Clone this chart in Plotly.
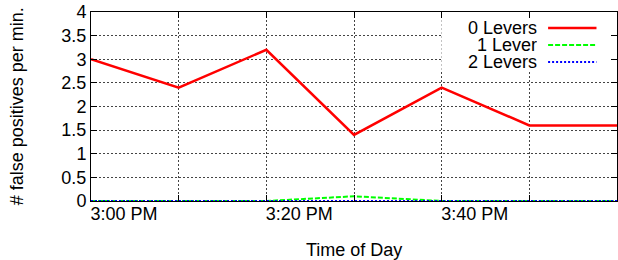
import plotly.graph_objects as go

# Data: minutes after 3:00 PM
minutes = [0, 10, 20, 30, 40, 50, 60]
levers0 = [3.0, 2.4, 3.2, 1.4, 2.4, 1.6, 1.6]
levers1 = [0.0, 0.0, 0.0, 0.1, 0.0, 0.0, 0.0]
levers2 = [0.0, 0.0, 0.0, 0.0, 0.0, 0.0, 0.0]
series_names = ["0 Levers", "1 Lever", "2 Levers"]

x_tickvals = [0, 10, 20, 30, 40, 50, 60]
x_ticktext = ["3:00 PM", "", "3:20 PM", "", "3:40 PM", "", ""]
y_tickvals = [0, 0.5, 1, 1.5, 2, 2.5, 3, 3.5, 4]
y_ticktext = ["0", "0.5", "1", "1.5", "2", "2.5", "3", "3.5", "4"]
x_title = "Time of Day"
y_title = "# false positives per min."

X_RANGE = [0, 60]
Y_RANGE = [0, 4]

FONT = "Liberation Sans, Arial, Helvetica, sans-serif"
colors = ["#ff0000", "#00ff00", "#0000ff"]
dashes = ["solid", "5px,2px", "2px,2px"]
widths = [2.5, 2, 2]

fig = go.Figure()
for name, ys, c, d, w in zip(series_names, [levers0, levers1, levers2], colors, dashes, widths):
    fig.add_trace(go.Scatter(x=minutes, y=ys, mode="lines", name=name,
                             line=dict(color=c, dash=d, width=w), showlegend=False))


def fx(f):
    return X_RANGE[0] + f * (X_RANGE[1] - X_RANGE[0])


def fy(f):
    return Y_RANGE[0] + f * (Y_RANGE[1] - Y_RANGE[0])


# white legend box (between grid and traces)
fig.add_shape(type="rect", xref="x", yref="y", x0=fx(0.666), x1=fx(0.985),
              y0=fy(0.69), y1=fy(0.995), fillcolor="white", line=dict(width=0),
              layer="between")

leg_y = [0.915, 0.825, 0.735]
for name, c, d, w, yy in zip(series_names, colors, dashes, widths, leg_y):
    fig.add_annotation(xref="x domain", yref="y domain", x=0.85, y=yy, text=name,
                       showarrow=False, xanchor="right", yanchor="middle", height=16,
                       borderpad=0,
                       font=dict(family=FONT, size=18, color="black"))
    fig.add_shape(type="line", xref="x domain", yref="y domain", x0=0.869, x1=0.961,
                  y0=yy, y1=yy, line=dict(color=c, dash=d, width=w))

# axis titles
fig.add_annotation(xref="x domain", yref="y domain", x=0.5, y=-0.26, text=x_title,
                   showarrow=False, xanchor="center", yanchor="middle",
                   font=dict(family=FONT, size=18, color="black"))
fig.add_annotation(xref="x domain", yref="y domain", x=-0.141, y=0.5, text=y_title,
                   showarrow=False, xanchor="center", yanchor="middle", textangle=-90,
                   font=dict(family=FONT, size=18, color="black"))

fig.update_layout(
    width=618, height=260,
    margin=dict(l=91, r=1, t=12, b=59),
    paper_bgcolor="white", plot_bgcolor="white",
    font=dict(family=FONT, size=18, color="black"),
)
fig.update_xaxes(
    range=X_RANGE, tickvals=x_tickvals, ticktext=x_ticktext, automargin=False,
    showgrid=True, gridcolor="#444", griddash="2px,2px", gridwidth=1,
    showline=True, linecolor="black", linewidth=1, mirror="allticks",
    ticks="inside", ticklen=6, tickcolor="black",
    ticklabelshift=33, ticklabelstandoff=-4, zeroline=False,
)
fig.update_yaxes(
    range=Y_RANGE, tickvals=y_tickvals, ticktext=y_ticktext, automargin=False,
    showgrid=True, gridcolor="#444", griddash="2px,2px", gridwidth=1,
    showline=True, linecolor="black", linewidth=1, mirror="allticks",
    ticks="inside", ticklen=6, tickcolor="black", zeroline=False,
)

fig.write_html("out.html", config={"displayModeBar": False},
               post_script="document.body.style.margin='0';")
